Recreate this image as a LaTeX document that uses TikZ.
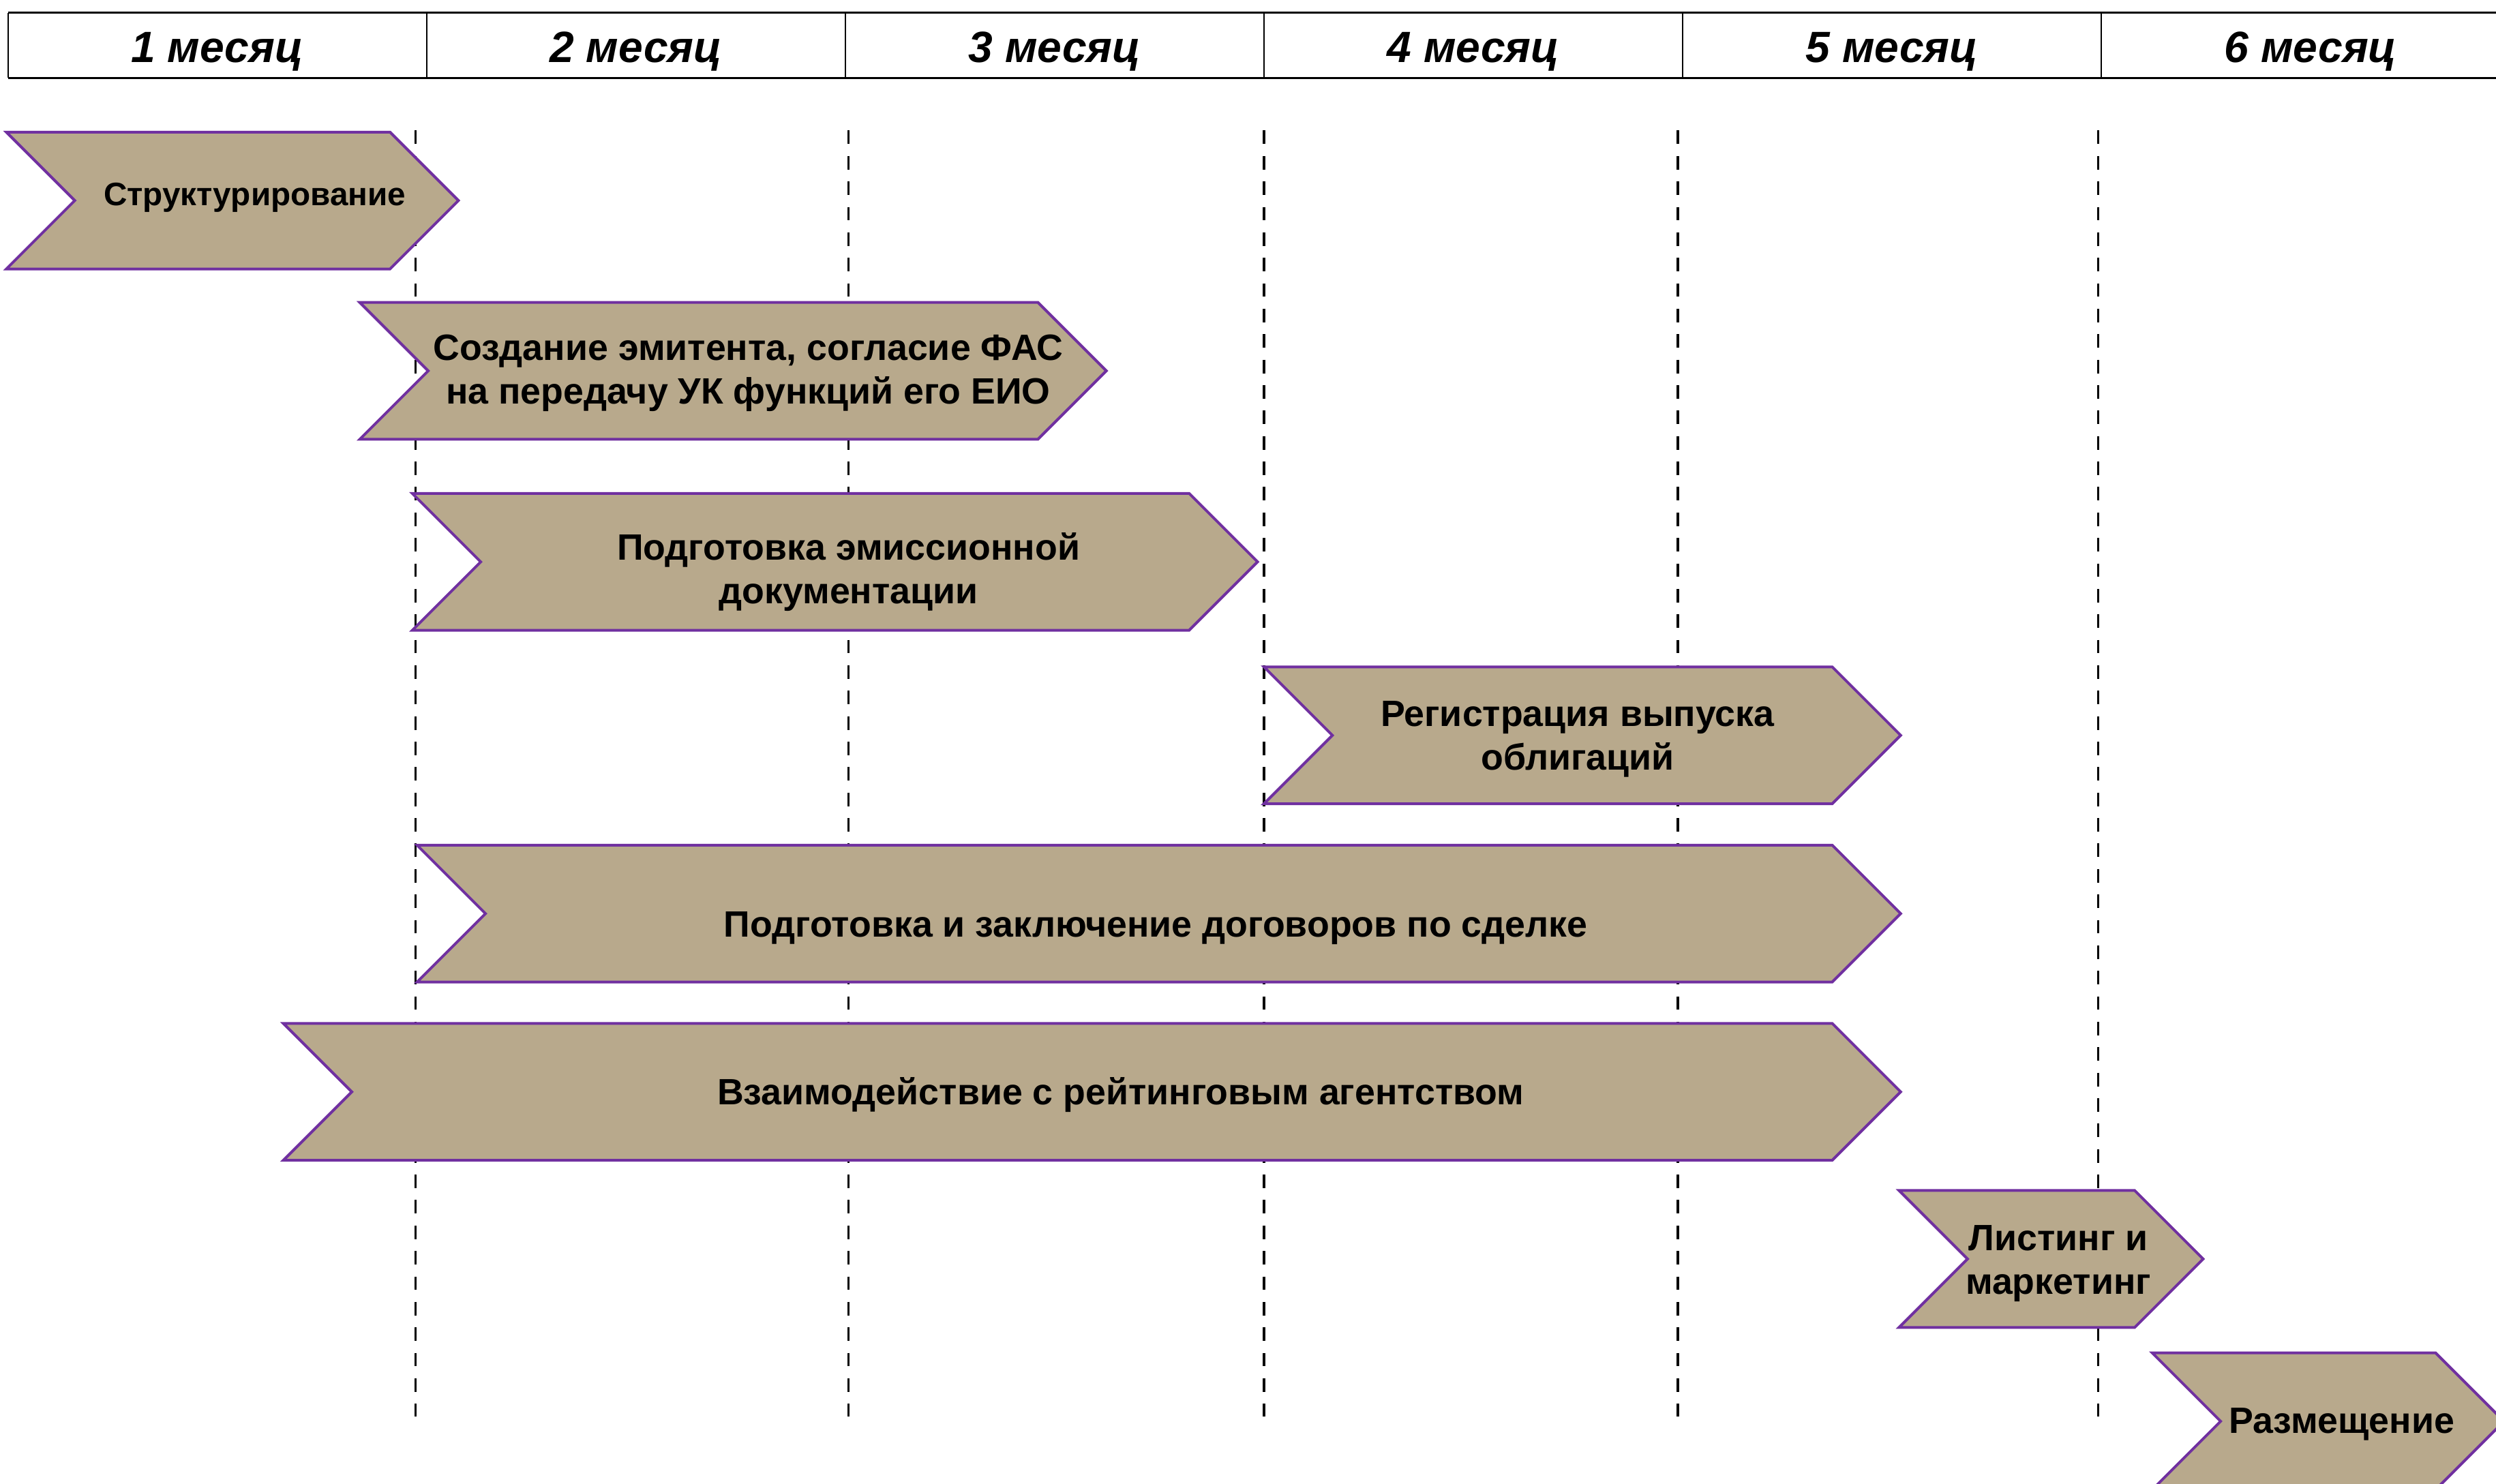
\documentclass[tikz,border=0pt]{standalone}
\usepackage{fontspec}
\setmainfont{Liberation Sans}
\definecolor{chevfill}{RGB}{184,169,140}
\definecolor{chevline}{RGB}{112,48,160}
% #1 name, #2 left x, #3 top y, #4 top-right x, #5 text x, #6 text y, #7 text
\newcommand\chevron[7]{%
  \draw[chev] (#2,#3) -- (#4,#3) -- (#4+43,#3+43) -- (#4,#3+86) -- (#2,#3+86) -- (#2+43,#3+43) -- cycle;
  \node[lbl] (#1) at (#5,#6) {#7};
}
\begin{document}
\begin{tikzpicture}[x=1pt,y=-1pt,
  chev/.style={fill=chevfill,draw=chevline,line width=1.7pt,line join=miter},
  lbl/.style={font=\fontsize{23}{27.5}\selectfont\bfseries,align=center,inner sep=0pt},
  hdr/.style={font=\fontsize{27.5}{30}\selectfont\bfseries\itshape,anchor=base,inner sep=0pt},
  gridline/.style={line width=1.4pt,dash pattern=on 8.5pt off 7.5pt},
  hthick/.style={line width=1.4pt},
  hthin/.style={line width=0.9pt}]
\path[use as bounding box] (0,0) rectangle (1568,932);
\begin{scope}
\clip (0,0) rectangle (1568,932);
% header
\fill[white] (5,8) rectangle (1568,49);
\foreach \x in {5,268,531,794,1057,1320} \draw[hthin] (\x,8) -- (\x,49);
\draw[hthick] (5,8) -- (1568,8);
\draw[hthick] (5,49) -- (1568,49);
\node[hdr] (m1) at (136.5,39) {1 месяц};
\node[hdr] (m2) at (399.5,39) {2 месяц};
\node[hdr] (m3) at (662.5,39) {3 месяц};
\node[hdr] (m4) at (925.5,39) {4 месяц};
\node[hdr] (m5) at (1188.5,39) {5 месяц};
\node[hdr] (m6) at (1451.5,39) {6 месяц};
% dashed month boundaries
\foreach \x in {261,533,794,1054,1318} \draw[gridline] (\x,82) -- (\x,890);
% chevrons
\chevron{s1}{4}{83}{245}{160}{124}{\fontsize{20.4}{24}\selectfont Структурирование}
\chevron{s2}{226}{190}{652}{470}{234.5}{Создание эмитента, согласие ФАС\\на передачу УК функций его ЕИО}
\chevron{s3}{259}{310}{747}{533}{359.5}{Подготовка эмиссионной\\документации}
\chevron{s4}{794}{419}{1151}{991}{464.5}{Регистрация выпуска\\облигаций}
\chevron{s5}{262}{531}{1151}{726}{583}{Подготовка и заключение договоров по сделке}
\chevron{s6}{178}{643}{1151}{704}{688}{Взаимодействие с рейтинговым агентством}
\chevron{s7}{1193}{748}{1341}{1293}{794}{Листинг и\\маркетинг}
\chevron{s8}{1352}{850}{1530}{1471}{895}{Размещение}
\end{scope}
\end{tikzpicture}
\end{document}
